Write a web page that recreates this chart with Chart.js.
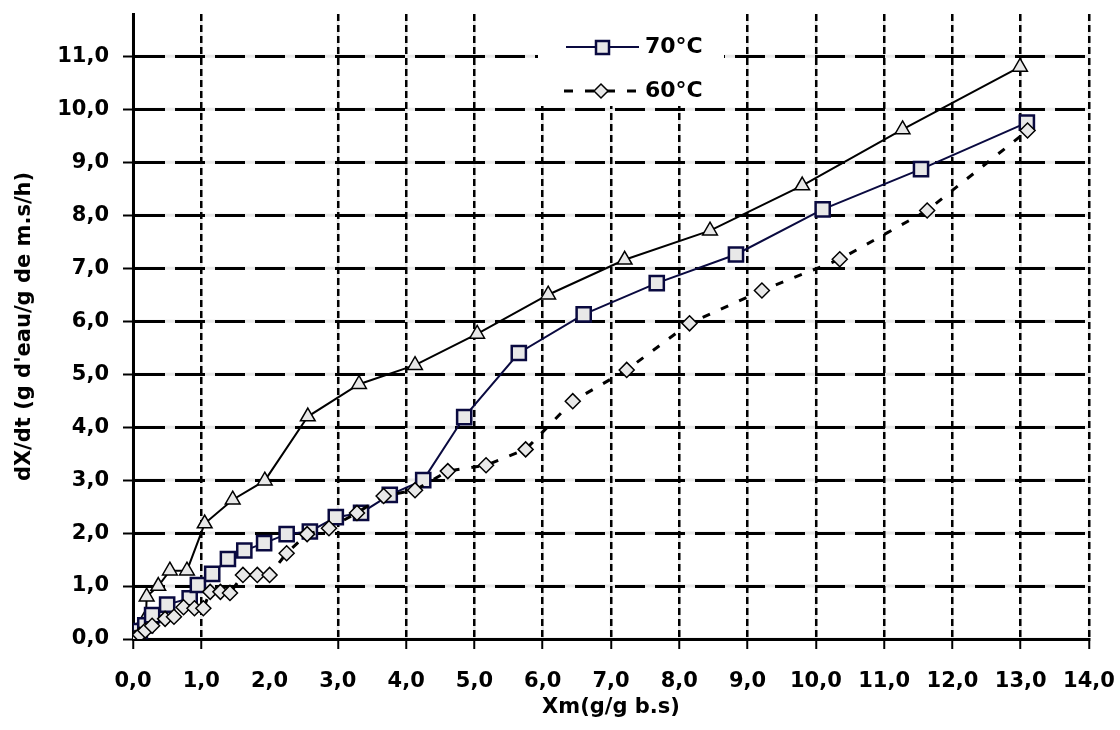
<!DOCTYPE html>
<html>
<head>
<meta charset="utf-8">
<script src="https://cdn.jsdelivr.net/npm/chart.js@4.4.1/dist/chart.umd.min.js"></script>
<style>
    html, body { margin: 0; padding: 0; background: #fff; }
</style>
</head>
<body>
<canvas id="chart" width="1120" height="730"></canvas>
<script>
// Series (x = Xm, y = dX/dt)
const x80 = [0.02, 0.08, 0.19, 0.20, 0.37, 0.54, 0.79, 1.05, 1.46, 1.93, 2.56, 3.31, 4.13, 5.04, 6.08, 7.20, 8.45, 9.80, 11.27, 12.99];
const y80 = [0.03, 0.18, 0.40, 0.80, 1.00, 1.29, 1.29, 2.18, 2.63, 2.99, 4.20, 4.81, 5.17, 5.76, 6.50, 7.16, 7.71, 8.56, 9.62, 10.80];

const x70 = [0.03, 0.10, 0.18, 0.28, 0.50, 0.83, 0.95, 1.16, 1.39, 1.63, 1.92, 2.25, 2.59, 2.97, 3.34, 3.76, 4.25, 4.85, 5.65, 6.60, 7.67, 8.83, 10.10, 11.54, 13.09];
const y70 = [0.05, 0.15, 0.26, 0.45, 0.65, 0.77, 1.02, 1.23, 1.51, 1.67, 1.81, 1.98, 2.03, 2.30, 2.38, 2.72, 3.00, 4.19, 5.40, 6.13, 6.72, 7.26, 8.11, 8.87, 9.75];

const x60 = [0.03, 0.10, 0.18, 0.28, 0.47, 0.60, 0.74, 0.90, 1.03, 1.13, 1.28, 1.42, 1.61, 1.82, 2.00, 2.25, 2.55, 2.87, 3.28, 3.67, 4.13, 4.61, 5.17, 5.75, 6.44, 7.23, 8.15, 9.21, 10.35, 11.63, 13.10];
const y60 = [0.02, 0.08, 0.16, 0.25, 0.38, 0.42, 0.60, 0.58, 0.58, 0.89, 0.89, 0.87, 1.21, 1.21, 1.21, 1.62, 1.98, 2.09, 2.38, 2.70, 2.81, 3.17, 3.28, 3.58, 4.49, 5.08, 5.96, 6.58, 7.17, 8.09, 9.60];

const seriesLabels = ['80°C', '70°C', '60°C'];
const xTicks = [0, 1, 2, 3, 4, 5, 6, 7, 8, 9, 10, 11, 12, 13, 14];
const yTicks = [0, 1, 2, 3, 4, 5, 6, 7, 8, 9, 10, 11];

const navy = '#0a0a40';
const markerFill = '#e8e8e8';
const gapGrey = '#e8e8e8';

function pairs(xs, ys) {
    return xs.map((x, i) => ({ x: x, y: ys[i] }));
}

function fmt(v) {
    return v.toFixed(1).replace('.', ',');
}

// light grey under the dashed grid, like the gaps in the original
const gridGaps = {
    id: 'gridGaps',
    beforeDraw(chart) {
        const { ctx, chartArea, scales } = chart;
        ctx.save();
        ctx.strokeStyle = gapGrey;
        ctx.lineWidth = 2.5;
        xTicks.forEach(v => {
            if (v === 2) return;
            const px = scales.x.getPixelForValue(v);
            ctx.beginPath();
            ctx.moveTo(px, chartArea.top);
            ctx.lineTo(px, chartArea.bottom);
            ctx.stroke();
        });
        ctx.lineWidth = 3;
        yTicks.forEach(v => {
            const py = scales.y.getPixelForValue(v);
            ctx.beginPath();
            ctx.moveTo(chartArea.left, py);
            ctx.lineTo(chartArea.right, py);
            ctx.stroke();
        });
        ctx.restore();
    }
};

// legend box with line + marker samples
const legendBox = {
    id: 'legendBox',
    afterDatasetsDraw(chart) {
        const ctx = chart.ctx;
        ctx.save();
        ctx.fillStyle = '#fff';
        ctx.fillRect(538, 8, 186, 98);

        // 70°C
        ctx.strokeStyle = navy;
        ctx.lineWidth = 2;
        ctx.beginPath();
        ctx.moveTo(566, 47);
        ctx.lineTo(639, 47);
        ctx.stroke();
        ctx.fillStyle = markerFill;
        ctx.fillRect(596, 41, 13, 13);
        ctx.lineWidth = 2.5;
        ctx.strokeRect(596, 41, 13, 13);

        // 60°C
        ctx.strokeStyle = '#000';
        ctx.lineWidth = 3;
        ctx.setLineDash([9, 12]);
        ctx.beginPath();
        ctx.moveTo(564, 91);
        ctx.lineTo(640, 91);
        ctx.stroke();
        ctx.setLineDash([]);
        ctx.beginPath();
        ctx.moveTo(594, 91);
        ctx.lineTo(601, 84);
        ctx.lineTo(608, 91);
        ctx.lineTo(601, 98);
        ctx.closePath();
        ctx.fillStyle = markerFill;
        ctx.fill();
        ctx.lineWidth = 1.5;
        ctx.stroke();

        ctx.fillStyle = '#000';
        ctx.font = 'bold 22px "DejaVu Sans"';
        ctx.textBaseline = 'middle';
        ctx.fillText(seriesLabels[1], 645, 47);
        ctx.fillText(seriesLabels[2], 645, 91);
        ctx.restore();
    }
};

Chart.defaults.font.family = '"DejaVu Sans", sans-serif';
Chart.defaults.font.weight = 'bold';
Chart.defaults.font.size = 21;
Chart.defaults.color = '#000';

new Chart(document.getElementById('chart'), {
    type: 'scatter',
    data: {
        datasets: [
            {
                label: seriesLabels[0],
                data: pairs(x80, y80),
                showLine: true,
                borderColor: '#000',
                borderWidth: 2,
                pointStyle: 'triangle',
                pointRadius: 8.5,
                pointBackgroundColor: markerFill,
                pointBorderColor: '#000',
                pointBorderWidth: 1.5,
                order: 3
            },
            {
                label: seriesLabels[1],
                data: pairs(x70, y70),
                showLine: true,
                borderColor: navy,
                borderWidth: 2,
                pointStyle: 'rect',
                pointRadius: 10,
                pointBackgroundColor: markerFill,
                pointBorderColor: navy,
                pointBorderWidth: 2.5,
                order: 2
            },
            {
                label: seriesLabels[2],
                data: pairs(x60, y60),
                showLine: true,
                borderColor: '#000',
                borderWidth: 3,
                borderDash: [8, 12],
                pointStyle: 'rectRot',
                pointRadius: 7.5,
                pointBackgroundColor: markerFill,
                pointBorderColor: '#000',
                pointBorderWidth: 1.5,
                order: 1
            }
        ]
    },
    options: {
        responsive: false,
        animation: false,
        layout: { padding: { top: 14, right: 31, bottom: 6, left: 8 } },
        plugins: {
            legend: { display: false },
            tooltip: { enabled: false }
        },
        scales: {
            x: {
                type: 'linear',
                min: 0,
                max: 14,
                afterFit: s => { s.height = 85; s.paddingLeft = 0; s.paddingRight = 0; },
                afterBuildTicks: s => { s.ticks = xTicks.map(v => ({ value: v })); },
                ticks: { padding: 20, maxRotation: 0, callback: v => fmt(v) },
                grid: {
                    color: c => (c.tick && c.tick.value === 2) ? 'rgba(0,0,0,0)' : '#000',
                    tickColor: c => (c.tick && c.tick.value === 2) ? 'rgba(0,0,0,0)' : '#000',
                    lineWidth: 2.5,
                    tickWidth: 2,
                    tickLength: 10
                },
                border: { color: '#000', width: 3, dash: [7, 4] },
                title: { display: true, text: 'Xm(g/g b.s)', padding: { top: 0, bottom: 4 } }
            },
            y: {
                min: 0,
                max: 11.8,
                afterFit: s => { s.width = 125; s.paddingTop = 0; s.paddingBottom = 0; },
                afterBuildTicks: s => { s.ticks = yTicks.map(v => ({ value: v })); },
                ticks: { padding: 14, callback: v => fmt(v) },
                grid: {
                    color: '#000',
                    tickColor: '#000',
                    lineWidth: 3,
                    tickWidth: 2,
                    tickLength: 10
                },
                border: { color: '#000', width: 3, dash: [30, 10] },
                title: { display: true, text: "dX/dt (g d'eau/g de m.s/h)", padding: { top: 4, bottom: 4 } }
            }
        }
    },
    plugins: [gridGaps, legendBox]
});
</script>
</body>
</html>
